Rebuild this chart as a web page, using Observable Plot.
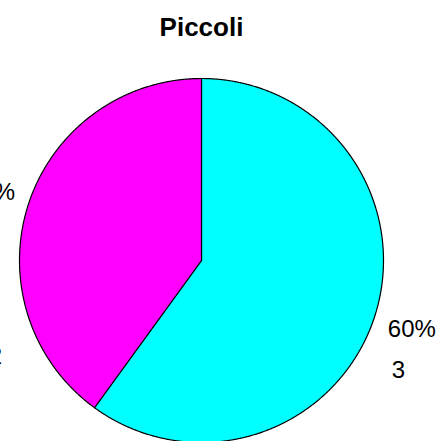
<!DOCTYPE html>
<html>
<head>
<meta charset="utf-8">
<script src="https://cdn.jsdelivr.net/npm/d3@7"></script>
<script src="https://cdn.jsdelivr.net/npm/@observablehq/plot@0.6"></script>
<style>
  html, body { margin: 0; padding: 0; background: #fff; }
  #chart svg { display: block; }
</style>
</head>
<body>
<div id="chart"></div>
<script>
// ---- data ----
const title = "Piccoli";
const categories = ["A", "B"];
const counts = [3, 2];
const colors = ["#00FFFF", "#FF00FF"];

// ---- layout ----
const W = 436, H = 441;
const cx = 201, cy = 260, R = 182;           // pie centre and radius in pixels
const pctRadius = 1.215;                     // percentage label radius (in pie radii)
const countLabel = [[119.2, 1.24], [245, 1.25]]; // [angle deg, radius] of count labels

const total = d3.sum(counts);
let acc = 0;
const slices = counts.map((c, i) => {
  const start = acc / total * 2 * Math.PI;
  acc += c;
  const end = acc / total * 2 * Math.PI;
  return {cat: categories[i], count: c, pct: Math.round(c / total * 100) + "%", start, end, color: colors[i]};
});

// polygon points (centre -> arc -> centre), angle measured clockwise from 12 o'clock
const pts = [];
slices.forEach(s => {
  const n = Math.max(2, Math.ceil((s.end - s.start) / (Math.PI / 720)));
  pts.push({cat: s.cat, x: 0, y: 0});
  for (let k = 0; k <= n; k++) {
    const a = s.start + (s.end - s.start) * k / n;
    pts.push({cat: s.cat, x: Math.sin(a), y: -Math.cos(a)});
  }
  pts.push({cat: s.cat, x: 0, y: 0});
});

const pctLabels = slices.map(s => {
  const a = (s.start + s.end) / 2;
  return {text: s.pct, x: pctRadius * Math.sin(a), y: -pctRadius * Math.cos(a)};
});
const countLabels = slices.map((s, i) => {
  const a = countLabel[i][0] * Math.PI / 180, r = countLabel[i][1];
  return {text: String(s.count), x: r * Math.sin(a), y: -r * Math.cos(a)};
});

const chart = Plot.plot({
  width: W,
  height: H,
  margin: 0,
  style: {fontFamily: "Liberation Sans, Arial, sans-serif", background: "#fff"},
  x: {type: "linear", domain: [-cx / R, (W - cx) / R], range: [0, W], axis: null},
  y: {type: "linear", domain: [-cy / R, (H - cy) / R], range: [0, H], axis: null},
  color: {domain: categories, range: colors},
  marks: [
    Plot.line(pts, {x: "x", y: "y", z: "cat", fill: "cat", stroke: "black", strokeWidth: 1.2, curve: "linear"}),
    Plot.text(pctLabels, {x: "x", y: "y", text: "text", fontSize: 24, fill: "black"}),
    Plot.text(countLabels, {x: "x", y: "y", text: "text", fontSize: 24, fill: "black"}),
    Plot.text([title], {frameAnchor: "top", lineAnchor: "middle", dy: 27, text: d => d, fontSize: 26, fontWeight: "bold", fill: "black", x: () => 0})
  ]
});
document.getElementById("chart").appendChild(chart);
</script>
</body>
</html>
